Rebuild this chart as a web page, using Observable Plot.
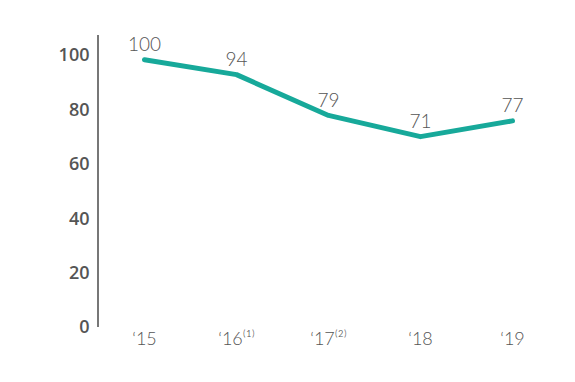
<!DOCTYPE html>
<html>
<head>
<meta charset="utf-8">
<script src="https://cdn.jsdelivr.net/npm/d3@7"></script>
<script src="https://cdn.jsdelivr.net/npm/@observablehq/plot@0.6"></script>
<style>
  html, body { margin: 0; padding: 0; background: #fff; }
  svg { font-family: "Open Sans", "DejaVu Sans", sans-serif; }
</style>
</head>
<body>
<div id="chart"></div>
<script>
const years = ["‘15", "‘16⁽¹⁾", "‘17⁽²⁾", "‘18", "‘19"];
const lineValues = [98.5, 93, 78, 70.2, 76];
const labelValues = [100, 94, 79, 71, 77];
const yTicks = [0, 20, 40, 60, 80, 100];
const yTop = 107.4;

const data = years.map((y, i) => ({year: y, value: lineValues[i], label: String(labelValues[i])}));

const chart = Plot.plot({
  width: 575,
  height: 382,
  marginLeft: 96,
  marginRight: 15,
  marginTop: 35,
  marginBottom: 55,
  style: {fontFamily: "'Open Sans', 'DejaVu Sans', sans-serif", background: "#fff"},
  x: {type: "point", domain: years, padding: 0.5},
  y: {domain: [0, yTop]},
  marks: [
    Plot.ruleX([years[0]], {y1: 0, y2: yTop, dx: -46.5, stroke: "#777", strokeWidth: 2}),
    Plot.axisY({ticks: yTicks, tickSize: 0, tickPadding: 7, fontSize: 18, fontWeight: 600, fill: "#555", label: null}),
    Plot.axisX({tickSize: 0, tickPadding: 5, fontSize: 18, fontWeight: 300, fontFamily: "Lato, 'Open Sans', sans-serif", fill: "#555", label: null}),
    Plot.line(data, {x: "year", y: "value", stroke: "#17a99a", strokeWidth: 5, strokeLinecap: "round"}),
    Plot.text(data, {x: "year", y: "value", text: "label", dy: -15, fontSize: 19, fontWeight: 300, fontFamily: "Lato, 'Open Sans', sans-serif", fill: "#555"})
  ]
});
document.getElementById("chart").appendChild(chart);
</script>
</body>
</html>
